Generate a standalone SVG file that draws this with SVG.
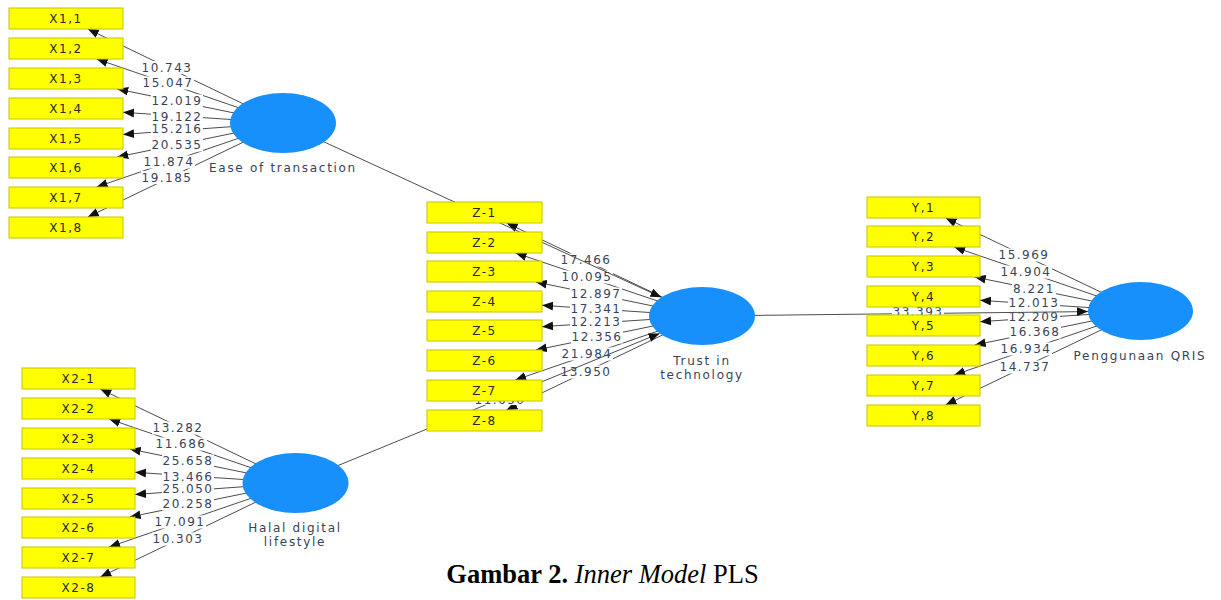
<svg xmlns="http://www.w3.org/2000/svg" width="1221" height="600" viewBox="0 0 1221 600">
<style>
.ln{stroke:#4d4d4d;stroke-width:1;fill:none}
.box{fill:#ffff00;stroke:#c8c400;stroke-width:1}
.bt{font-family:"DejaVu Sans",sans-serif;font-size:12px;letter-spacing:1.5px;fill:#2a2a20;text-anchor:middle}
.lbg{fill:#fff}
.lb{font-family:"DejaVu Sans",sans-serif;font-size:12px;letter-spacing:1.5px;fill:#37435a;text-anchor:middle}
.lv{fill:#1890fc}
.cl{font-family:"DejaVu Sans",sans-serif;font-size:12px;letter-spacing:1.7px;fill:#37435a;text-anchor:middle}
</style>
<defs>
<marker id="ah" viewBox="0 0 10 8" refX="10" refY="4" markerWidth="11" markerHeight="9" markerUnits="userSpaceOnUse" orient="auto"><path d="M0,0 L10,4 L0,8 z" fill="#111"/></marker>
<clipPath id="gap78"><rect x="427" y="401" width="115" height="9"/></clipPath>
</defs>
<rect width="1221" height="600" fill="#fff"/>
<g id="connectors">
<g id="indicator-lines" marker-end="url(#ah)">
<line class="ln" x1="283" y1="123" x2="87.8" y2="29"/>
<line class="ln" x1="283" y1="123" x2="96.6" y2="59"/>
<line class="ln" x1="283" y1="123" x2="117.2" y2="89"/>
<line class="ln" x1="283" y1="123" x2="123" y2="112.3"/>
<line class="ln" x1="283" y1="123" x2="123" y2="134.4"/>
<line class="ln" x1="283" y1="123" x2="117.2" y2="157"/>
<line class="ln" x1="283" y1="123" x2="96.6" y2="187"/>
<line class="ln" x1="283" y1="123" x2="87.8" y2="217"/>
<line class="ln" x1="295.5" y1="483" x2="100.3" y2="389"/>
<line class="ln" x1="295.5" y1="483" x2="109.1" y2="419"/>
<line class="ln" x1="295.5" y1="483" x2="129.7" y2="449"/>
<line class="ln" x1="295.5" y1="483" x2="135" y2="472.3"/>
<line class="ln" x1="295.5" y1="483" x2="135" y2="494.5"/>
<line class="ln" x1="295.5" y1="483" x2="129.7" y2="517"/>
<line class="ln" x1="295.5" y1="483" x2="109.1" y2="547"/>
<line class="ln" x1="295.5" y1="483" x2="100.3" y2="577"/>
<line class="ln" x1="702" y1="316" x2="506.6" y2="223"/>
<line class="ln" x1="702" y1="316" x2="515.6" y2="253"/>
<line class="ln" x1="702" y1="316" x2="535.8" y2="282"/>
<line class="ln" x1="702" y1="316" x2="542" y2="305.3"/>
<line class="ln" x1="702" y1="316" x2="542" y2="326.7"/>
<line class="ln" x1="702" y1="316" x2="535.8" y2="350"/>
<line class="ln" x1="702" y1="316" x2="515.1" y2="380"/>
<line class="ln" x1="702" y1="316" x2="506.4" y2="410"/>
<line class="ln" x1="1140.5" y1="311" x2="945.5" y2="218"/>
<line class="ln" x1="1140.5" y1="311" x2="954.1" y2="247"/>
<line class="ln" x1="1140.5" y1="311" x2="974.7" y2="277"/>
<line class="ln" x1="1140.5" y1="311" x2="980" y2="300.3"/>
<line class="ln" x1="1140.5" y1="311" x2="980" y2="321.7"/>
<line class="ln" x1="1140.5" y1="311" x2="974.7" y2="345"/>
<line class="ln" x1="1140.5" y1="311" x2="954.1" y2="375"/>
<line class="ln" x1="1140.5" y1="311" x2="945.5" y2="405"/>
</g>
<g id="indicator-labels">
<rect class="lbg" x="141" y="61" width="52" height="13"/><text class="lb" x="167" y="71.9">10.743</text>
<rect class="lbg" x="142" y="76.5" width="52" height="13"/><text class="lb" x="168" y="87.4">15.047</text>
<rect class="lbg" x="151" y="94.5" width="52" height="13"/><text class="lb" x="177" y="105.4">12.019</text>
<rect class="lbg" x="151" y="110" width="52" height="13"/><text class="lb" x="177" y="120.9">19.122</text>
<rect class="lbg" x="151" y="122.5" width="52" height="13"/><text class="lb" x="177" y="133.4">15.216</text>
<rect class="lbg" x="151" y="138.5" width="52" height="13"/><text class="lb" x="177" y="149.4">20.535</text>
<rect class="lbg" x="143" y="155.5" width="52" height="13"/><text class="lb" x="169" y="166.4">11.874</text>
<rect class="lbg" x="141" y="171" width="52" height="13"/><text class="lb" x="167" y="181.9">19.185</text>
<rect class="lbg" x="152" y="421.5" width="52" height="13"/><text class="lb" x="178" y="432.4">13.282</text>
<rect class="lbg" x="155" y="437.5" width="52" height="13"/><text class="lb" x="181" y="448.4">11.686</text>
<rect class="lbg" x="162" y="454.5" width="52" height="13"/><text class="lb" x="188" y="465.4">25.658</text>
<rect class="lbg" x="162" y="470.5" width="52" height="13"/><text class="lb" x="188" y="481.4">13.466</text>
<rect class="lbg" x="162" y="482.5" width="52" height="13"/><text class="lb" x="188" y="493.4">25.050</text>
<rect class="lbg" x="162" y="497.5" width="52" height="13"/><text class="lb" x="188" y="508.4">20.258</text>
<rect class="lbg" x="154" y="515.5" width="52" height="13"/><text class="lb" x="180" y="526.4">17.091</text>
<rect class="lbg" x="152" y="532.5" width="52" height="13"/><text class="lb" x="178" y="543.4">10.303</text>
<rect class="lbg" x="560" y="253.5" width="52" height="13"/><text class="lb" x="586" y="264.4">17.466</text>
<rect class="lbg" x="561" y="270.5" width="52" height="13"/><text class="lb" x="587" y="281.4">10.095</text>
<rect class="lbg" x="570" y="287.5" width="52" height="13"/><text class="lb" x="596" y="298.4">12.897</text>
<rect class="lbg" x="570" y="302.5" width="52" height="13"/><text class="lb" x="596" y="313.4">17.341</text>
<rect class="lbg" x="570" y="315.5" width="52" height="13"/><text class="lb" x="596" y="326.4">12.213</text>
<rect class="lbg" x="571" y="330.5" width="52" height="13"/><text class="lb" x="597" y="341.4">12.356</text>
<rect class="lbg" x="561" y="347.5" width="52" height="13"/><text class="lb" x="587" y="358.4">21.984</text>
<rect class="lbg" x="560" y="365.5" width="52" height="13"/><text class="lb" x="586" y="376.4">13.950</text>
<rect class="lbg" x="998" y="248.5" width="52" height="13"/><text class="lb" x="1024" y="259.4">15.969</text>
<rect class="lbg" x="1000" y="265.5" width="52" height="13"/><text class="lb" x="1026" y="276.4">14.904</text>
<rect class="lbg" x="1012" y="282.5" width="44" height="13"/><text class="lb" x="1034" y="293.4">8.221</text>
<rect class="lbg" x="1008" y="296.5" width="52" height="13"/><text class="lb" x="1034" y="307.4">12.013</text>
<rect class="lbg" x="1008" y="310.5" width="52" height="13"/><text class="lb" x="1034" y="321.4">12.209</text>
<rect class="lbg" x="1009" y="325.5" width="52" height="13"/><text class="lb" x="1035" y="336.4">16.368</text>
<rect class="lbg" x="1000" y="342.5" width="52" height="13"/><text class="lb" x="1026" y="353.4">16.934</text>
<rect class="lbg" x="999" y="360.5" width="52" height="13"/><text class="lb" x="1025" y="371.4">14.737</text>
</g>
<g id="structural-paths" marker-end="url(#ah)">
<line class="ln" x1="283" y1="123" x2="661.4" y2="297.3"/>
<line class="ln" x1="295.5" y1="483" x2="659.6" y2="333.4"/>
<line class="ln" x1="702" y1="316" x2="1088" y2="311.6"/>
</g>
<g id="structural-labels">
<rect class="lbg" x="892" y="305" width="52" height="13"/><text class="lb" x="918" y="315.9">33.393</text>
<g clip-path="url(#gap78)"><rect class="lbg" x="474" y="392" width="52" height="13"/><text class="lb" x="500" y="404">11.650</text></g>
</g>
</g>
<g id="X1-indicators">
<g id="X1_1"><rect class="box" x="9" y="8" width="114" height="21"/><text class="bt" x="66" y="23">X1,1</text></g>
<g id="X1_2"><rect class="box" x="9" y="38" width="114" height="21"/><text class="bt" x="66" y="53">X1,2</text></g>
<g id="X1_3"><rect class="box" x="9" y="68" width="114" height="21"/><text class="bt" x="66" y="83">X1,3</text></g>
<g id="X1_4"><rect class="box" x="9" y="98" width="114" height="21"/><text class="bt" x="66" y="113">X1,4</text></g>
<g id="X1_5"><rect class="box" x="9" y="128" width="114" height="21"/><text class="bt" x="66" y="143">X1,5</text></g>
<g id="X1_6"><rect class="box" x="9" y="157" width="114" height="21"/><text class="bt" x="66" y="172">X1,6</text></g>
<g id="X1_7"><rect class="box" x="9" y="187" width="114" height="21"/><text class="bt" x="66" y="202">X1,7</text></g>
<g id="X1_8"><rect class="box" x="9" y="217" width="114" height="21"/><text class="bt" x="66" y="232">X1,8</text></g>
</g>
<g id="X2-indicators">
<g id="X2_1"><rect class="box" x="22" y="368" width="113" height="21"/><text class="bt" x="78.5" y="383">X2-1</text></g>
<g id="X2_2"><rect class="box" x="22" y="398" width="113" height="21"/><text class="bt" x="78.5" y="413">X2-2</text></g>
<g id="X2_3"><rect class="box" x="22" y="428" width="113" height="21"/><text class="bt" x="78.5" y="443">X2-3</text></g>
<g id="X2_4"><rect class="box" x="22" y="458" width="113" height="21"/><text class="bt" x="78.5" y="473">X2-4</text></g>
<g id="X2_5"><rect class="box" x="22" y="488" width="113" height="21"/><text class="bt" x="78.5" y="503">X2-5</text></g>
<g id="X2_6"><rect class="box" x="22" y="517" width="113" height="21"/><text class="bt" x="78.5" y="532">X2-6</text></g>
<g id="X2_7"><rect class="box" x="22" y="547" width="113" height="21"/><text class="bt" x="78.5" y="562">X2-7</text></g>
<g id="X2_8"><rect class="box" x="22" y="577" width="113" height="21"/><text class="bt" x="78.5" y="592">X2-8</text></g>
</g>
<g id="Z-indicators">
<g id="Z_1"><rect class="box" x="427" y="202" width="115" height="21"/><text class="bt" x="484.5" y="217">Z-1</text></g>
<g id="Z_2"><rect class="box" x="427" y="232" width="115" height="21"/><text class="bt" x="484.5" y="247">Z-2</text></g>
<g id="Z_3"><rect class="box" x="427" y="261" width="115" height="21"/><text class="bt" x="484.5" y="276">Z-3</text></g>
<g id="Z_4"><rect class="box" x="427" y="291" width="115" height="21"/><text class="bt" x="484.5" y="306">Z-4</text></g>
<g id="Z_5"><rect class="box" x="427" y="320" width="115" height="21"/><text class="bt" x="484.5" y="335">Z-5</text></g>
<g id="Z_6"><rect class="box" x="427" y="350" width="115" height="21"/><text class="bt" x="484.5" y="365">Z-6</text></g>
<g id="Z_7"><rect class="box" x="427" y="380" width="115" height="21"/><text class="bt" x="484.5" y="395">Z-7</text></g>
<g id="Z_8"><rect class="box" x="427" y="410" width="115" height="21"/><text class="bt" x="484.5" y="425">Z-8</text></g>
</g>
<g id="Y-indicators">
<g id="Y_1"><rect class="box" x="867" y="197" width="113" height="21"/><text class="bt" x="923.5" y="212">Y,1</text></g>
<g id="Y_2"><rect class="box" x="867" y="226" width="113" height="21"/><text class="bt" x="923.5" y="241">Y,2</text></g>
<g id="Y_3"><rect class="box" x="867" y="256" width="113" height="21"/><text class="bt" x="923.5" y="271">Y,3</text></g>
<g id="Y_4"><rect class="box" x="867" y="286" width="113" height="21"/><text class="bt" x="923.5" y="301">Y,4</text></g>
<g id="Y_5"><rect class="box" x="867" y="315" width="113" height="21"/><text class="bt" x="923.5" y="330">Y,5</text></g>
<g id="Y_6"><rect class="box" x="867" y="345" width="113" height="21"/><text class="bt" x="923.5" y="360">Y,6</text></g>
<g id="Y_7"><rect class="box" x="867" y="375" width="113" height="21"/><text class="bt" x="923.5" y="390">Y,7</text></g>
<g id="Y_8"><rect class="box" x="867" y="405" width="113" height="21"/><text class="bt" x="923.5" y="420">Y,8</text></g>
</g>
<g id="ease-of-transaction"><ellipse class="lv" cx="283" cy="123" rx="53" ry="30"/><text class="cl" x="283" y="172">Ease of transaction</text></g>
<g id="halal-digital-lifestyle"><ellipse class="lv" cx="295.5" cy="483" rx="53" ry="30"/><text class="cl" x="295" y="532">Halal digital</text><text class="cl" x="295" y="546">lifestyle</text></g>
<g id="trust-in-technology"><ellipse class="lv" cx="702" cy="316" rx="53" ry="29"/><text class="cl" x="702" y="365">Trust in</text><text class="cl" x="702" y="379">technology</text></g>
<g id="penggunaan-qris"><ellipse class="lv" cx="1140.5" cy="311" rx="52.5" ry="29"/><text class="cl" x="1140" y="360">Penggunaan QRIS</text></g>
<g id="caption"><text x="602.5" y="583" font-family="Liberation Serif, serif" font-size="26.5" text-anchor="middle" fill="#000"><tspan font-weight="bold">Gambar 2.</tspan> <tspan font-style="italic">Inner Model</tspan> PLS</text></g>
</svg>
